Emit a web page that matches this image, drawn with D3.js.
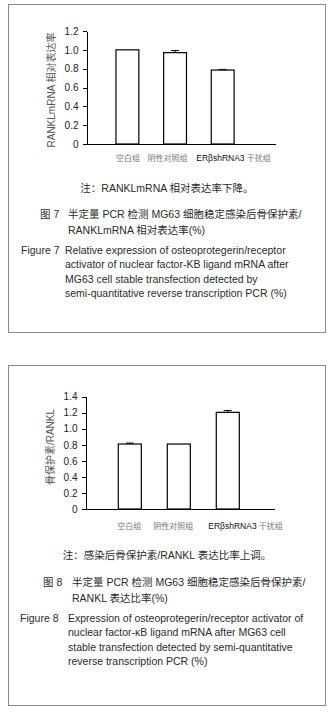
<!DOCTYPE html>
<html>
<head>
<meta charset="utf-8">
<script src="https://cdn.jsdelivr.net/npm/d3@7"></script>
<style>
  html, body { margin: 0; padding: 0; background: #fff; }
  svg { display: block; font-family: "Liberation Sans", Arial, "Noto Sans CJK SC", sans-serif; }
  .frame { fill: none; stroke: #8a8a8a; stroke-width: 1; }
  .axis path, .axis line { stroke: #000; shape-rendering: crispEdges; }
  .axis text { font-size: 10px; fill: #222; }
  .bar { fill: #fff; stroke: #000; stroke-width: 1.2; }
  .err { stroke: #000; stroke-width: 1; }
  .cat { font-size: 8px; fill: #777; }
  .cat .en { fill: #111; font-size: 8.5px; }
  .ylab { font-size: 10px; fill: #555; }
  .cap { font-size: 10.5px; fill: #2a2a2a; }
</style>
</head>
<body>
<svg id="fig" width="334" height="720"></svg>
<script>
// ── Data ──────────────────────────────────────────────────────────────────
const groups = ["空白组", "阴性对照组", "ERβshRNA3 干扰组"];

// Figure 7: RANKL mRNA relative expression
const ranklValues = [1.0, 0.97, 0.785];
const ranklErrors = [0, 0.022, 0.007];
const ranklTicks = [0, 0.2, 0.4, 0.6, 0.8, 1.0, 1.2];

// Figure 8: OPG / RANKL ratio
const ratioValues = [0.81, 0.81, 1.205];
const ratioErrors = [0.012, 0, 0.022];
const ratioTicks = [0, 0.2, 0.4, 0.6, 0.8, 1.0, 1.2, 1.4];

// ── Captions ──────────────────────────────────────────────────────────────
const note7 = "注：RANKLmRNA 相对表达率下降。";
const cn7 = ["半定量 PCR 检测 MG63 细胞稳定感染后骨保护素/", "RANKLmRNA 相对表达率(%)"];
const en7 = [
  "Relative expression of osteoprotegerin/receptor",
  "activator of nuclear factor-KB ligand mRNA after",
  "MG63 cell stable transfection detected by",
  "semi-quantitative reverse transcription PCR (%)",
];
const note8 = "注：感染后骨保护素/RANKL 表达比率上调。";
const cn8 = ["半定量 PCR 检测 MG63 细胞稳定感染后骨保护素/", "RANKL 表达比率(%)"];
const en8 = [
  "Expression of osteoprotegerin/receptor activator of",
  "nuclear factor-κB ligand mRNA after MG63 cell",
  "stable transfection detected by semi-quantitative",
  "reverse transcription PCR (%)",
];

const svg = d3.select("#fig");

// ── Bar chart ─────────────────────────────────────────────────────────────
function drawChart(cfg) {
  const g = svg.append("g");

  const x = d3
    .scaleBand()
    .domain(groups)
    .range(cfg.xRange)
    .paddingInner(cfg.pad)
    .paddingOuter(cfg.pad / 2);

  const y = d3.scaleLinear().domain([0, cfg.max]).range([cfg.y0, cfg.y1]);

  // y axis
  g.append("g")
    .attr("class", "axis")
    .attr("transform", `translate(${cfg.axisX},0)`)
    .call(
      d3
        .axisLeft(y)
        .tickValues(cfg.ticks)
        .tickSize(4)
        .tickSizeOuter(0)
        .tickPadding(4)
        .tickFormat((d) => (d === 0 ? "0" : d.toFixed(1))),
    );

  // x axis line
  g.append("line")
    .attr("class", "axis")
    .attr("x1", cfg.axisX)
    .attr("x2", cfg.axisEnd)
    .attr("y1", y(0) + 0.5)
    .attr("y2", y(0) + 0.5)
    .attr("stroke", "#000");

  // bars
  g.selectAll(".bar")
    .data(cfg.values)
    .join("rect")
    .attr("class", "bar")
    .attr("x", (d, i) => x(groups[i]))
    .attr("y", (d) => y(d))
    .attr("width", x.bandwidth())
    .attr("height", (d) => y(0) - y(d));

  // error bars (upper only)
  const errs = cfg.values.map((v, i) => ({ v, e: cfg.errors[i], i })).filter((d) => d.e > 0);
  const cx = (d) => x(groups[d.i]) + x.bandwidth() / 2;
  g.selectAll(".err-v")
    .data(errs)
    .join("line")
    .attr("class", "err")
    .attr("x1", cx)
    .attr("x2", cx)
    .attr("y1", (d) => y(d.v))
    .attr("y2", (d) => y(d.v + d.e));
  g.selectAll(".err-c")
    .data(errs)
    .join("line")
    .attr("class", "err")
    .attr("x1", (d) => cx(d) - 4)
    .attr("x2", (d) => cx(d) + 4)
    .attr("y1", (d) => y(d.v + d.e))
    .attr("y2", (d) => y(d.v + d.e));

  // category labels
  const lab = g
    .selectAll(".cat")
    .data(groups)
    .join("text")
    .attr("class", "cat")
    .attr("x", (d, i) => x(d) + cfg.labelDx[i])
    .attr("y", cfg.labelY);
  lab.each(function (d) {
    const t = d3.select(this);
    if (d.startsWith("ER")) {
      const parts = d.split(" ");
      t.append("tspan").attr("class", "en").text(parts[0]);
      t.append("tspan").text(" " + parts[1]);
    } else {
      t.text(d);
    }
  });

  // y label
  g.append("text")
    .attr("class", "ylab")
    .attr("text-anchor", "middle")
    .attr("transform", `translate(${cfg.yLabX},${cfg.yLabY}) rotate(-90)`)
    .text(cfg.yLabel);
}

// ── Caption block ─────────────────────────────────────────────────────────
function drawCaption(c) {
  const g = svg.append("g").attr("class", "cap");
  g.append("text")
    .attr("x", 167)
    .attr("y", c.noteY)
    .attr("text-anchor", "middle")
    .text(c.note);

  g.append("text").attr("x", c.figCnX).attr("y", c.cnY).text(c.figCn);
  c.cn.forEach((line, i) => {
    g.append("text").attr("x", c.cnX).attr("y", c.cnY + i * 16).text(line);
  });

  g.append("text").attr("x", c.figEnX).attr("y", c.enY).text(c.figEn);
  c.en.forEach((line, i) => {
    g.append("text").attr("x", c.enX).attr("y", c.enY + i * 14.3).text(line);
  });
}

// ── Frames ────────────────────────────────────────────────────────────────
svg.append("rect").attr("class", "frame").attr("x", 8.5).attr("y", 4.5).attr("width", 317).attr("height", 328);
svg.append("rect").attr("class", "frame").attr("x", 8.5).attr("y", 365.5).attr("width", 317).attr("height", 340);

// ── Figure 7 ──────────────────────────────────────────────────────────────
drawChart({
  values: ranklValues,
  errors: ranklErrors,
  ticks: ranklTicks,
  max: 1.2,
  y0: 144,
  y1: 31,
  axisX: 86.5,
  axisEnd: 276,
  xRange: [103.6, 246.5],
  pad: 0.52,
  labelDx: [0, -16, -15],
  labelY: 161,
  yLabel: "RANKLmRNA 相对表达率",
  yLabX: 55,
  yLabY: 90,
});

drawCaption({
  note: note7,
  noteY: 192,
  figCn: "图 7",
  figCnX: 40,
  cn: cn7,
  cnX: 68,
  cnY: 218,
  figEn: "Figure 7",
  figEnX: 21,
  en: en7,
  enX: 65,
  enY: 254,
});

// ── Figure 8 ──────────────────────────────────────────────────────────────
drawChart({
  values: ratioValues,
  errors: ratioErrors,
  ticks: ratioTicks,
  max: 1.4,
  y0: 509,
  y1: 396.7,
  axisX: 85.5,
  axisEnd: 275,
  xRange: [105.3, 252.3],
  pad: 0.53,
  labelDx: [-1, -14, -8],
  labelY: 529,
  yLabel: "骨保护素/RANKL",
  yLabX: 54,
  yLabY: 447,
});

drawCaption({
  note: note8,
  noteY: 559,
  figCn: "图 8",
  figCnX: 43,
  cn: cn8,
  cnX: 72,
  cnY: 586,
  figEn: "Figure 8",
  figEnX: 20,
  en: en8,
  enX: 68,
  enY: 622,
});
</script>
</body>
</html>
